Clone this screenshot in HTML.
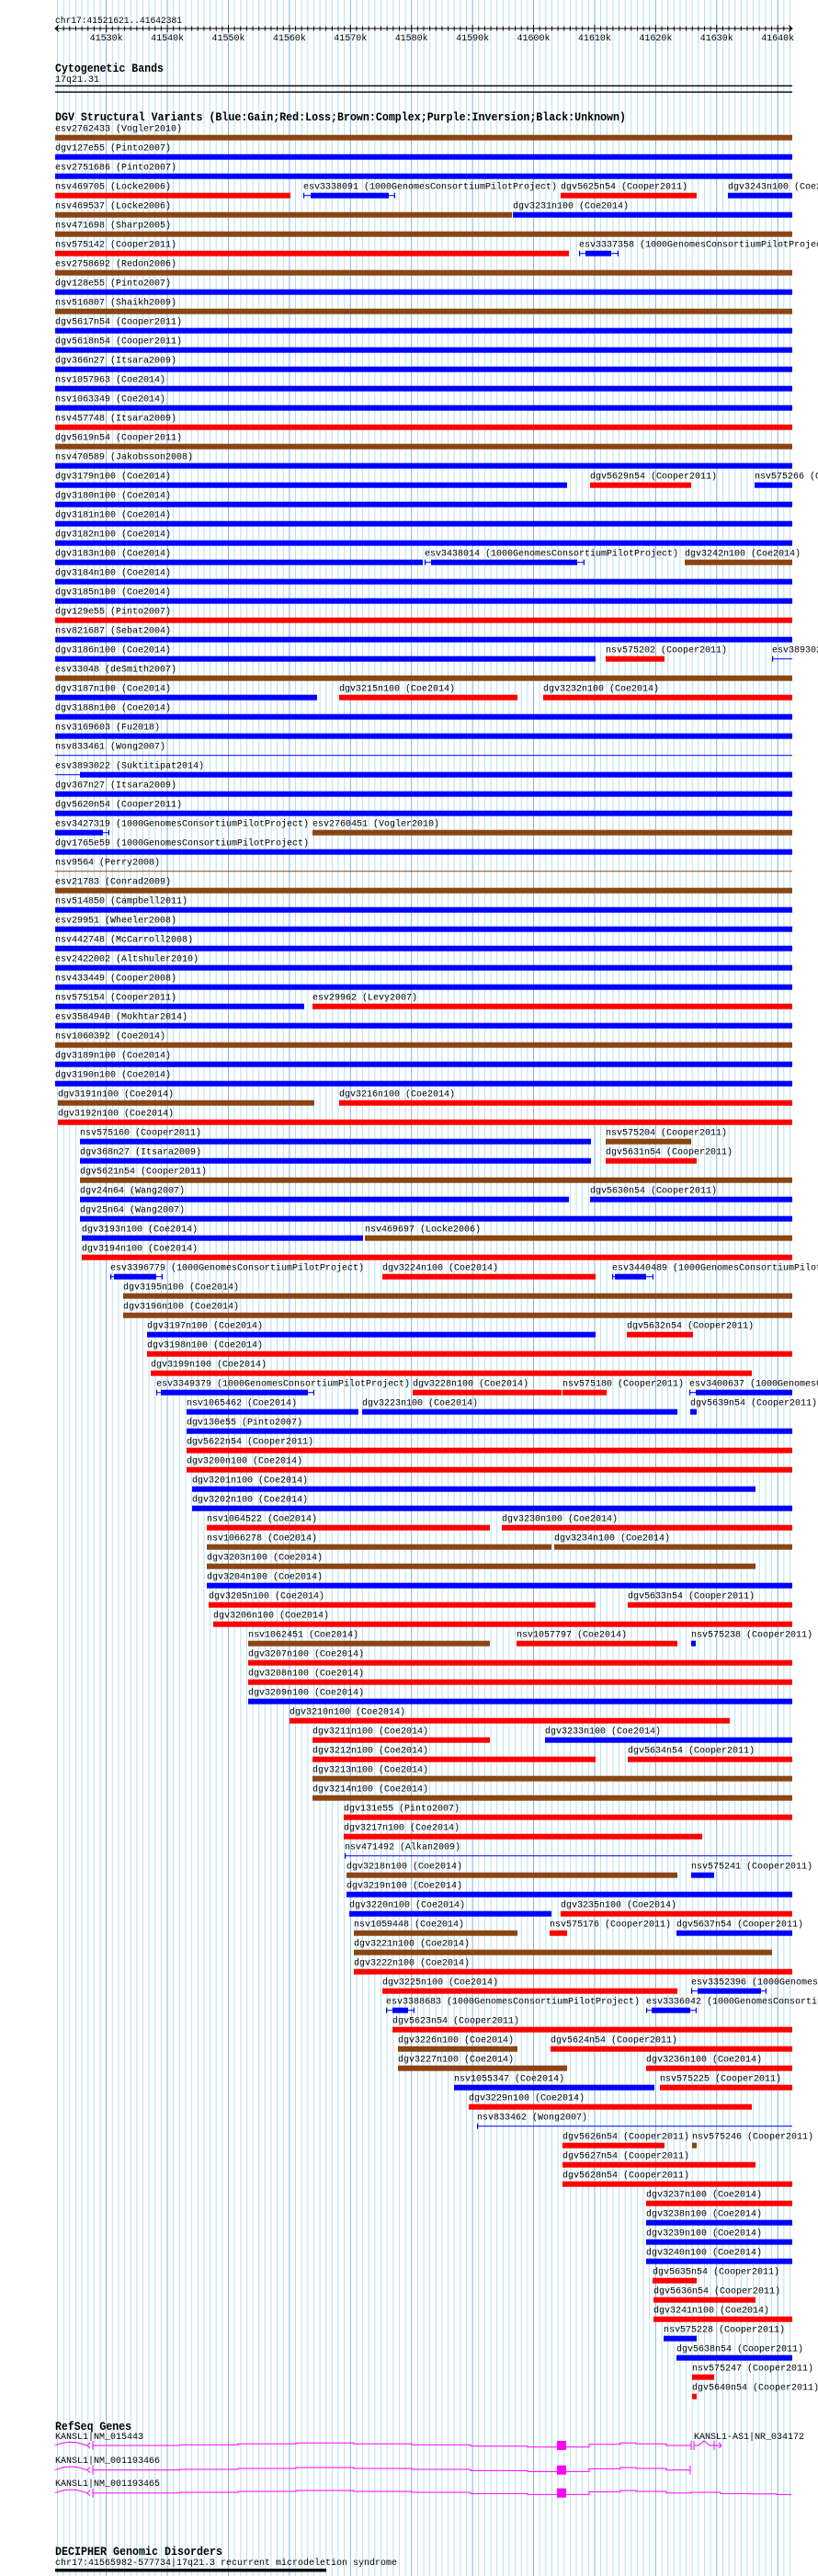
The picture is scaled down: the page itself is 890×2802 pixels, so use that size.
<!DOCTYPE html>
<html><head><meta charset="utf-8"><style>
html,body{margin:0;padding:0;background:#fff;}
svg{display:block;}
text{font-family:"Liberation Mono",monospace;font-size:10.5px;fill:#000;}
.h{font-weight:bold;font-size:13px;}
</style></head><body>
<svg id="s" xmlns="http://www.w3.org/2000/svg" width="890" height="2802" viewBox="0 0 890 2802">
<g id="grid"></g>
<text x="60" y="25" textLength="138" lengthAdjust="spacingAndGlyphs">chr17:41521621..41642381</text>
<g id="ruler"></g>
<text class="h" x="60" y="78" textLength="118" lengthAdjust="spacingAndGlyphs">Cytogenetic Bands</text>
<text x="60" y="89" textLength="48" lengthAdjust="spacingAndGlyphs">17q21.31</text>
<rect x="60" y="92.7" width="802" height="1.4" fill="#000"/>
<rect x="60" y="99.4" width="802" height="1.4" fill="#000"/>
<text class="h" x="60" y="131" textLength="621" lengthAdjust="spacingAndGlyphs">DGV Structural Variants (Blue:Gain;Red:Loss;Brown:Complex;Purple:Inversion;Black:Unknown)</text>
<g id="tracks"></g>
<text class="h" x="60" y="2643" textLength="83" lengthAdjust="spacingAndGlyphs">RefSeq Genes</text>
<text x="60" y="2653" textLength="96" lengthAdjust="spacingAndGlyphs">KANSL1|NM_015443</text>
<text x="755" y="2653" textLength="120" lengthAdjust="spacingAndGlyphs">KANSL1-AS1|NR_034172</text>
<text x="60" y="2679" textLength="114" lengthAdjust="spacingAndGlyphs">KANSL1|NM_001193466</text>
<text x="60" y="2704" textLength="114" lengthAdjust="spacingAndGlyphs">KANSL1|NM_001193465</text>
<g id="genes" fill="none" stroke="#ff00ff" stroke-width="1"></g>
<text class="h" x="60" y="2779" textLength="182" lengthAdjust="spacingAndGlyphs">DECIPHER Genomic Disorders</text>
<text x="60" y="2790" textLength="372" lengthAdjust="spacingAndGlyphs">chr17:41565982-577734|17q21.3 recurrent microdeletion syndrome</text>
<rect x="60" y="2794" width="295" height="3.5" fill="#000"/>
</svg>
<script>
(function(){
var NS="http://www.w3.org/2000/svg";
function el(p,t,a,txt){var e=document.createElementNS(NS,t);for(var k in a)e.setAttribute(k,a[k]);if(txt!==undefined)e.textContent=txt;p.appendChild(e);return e;}
var S=60,E=862,B=41521621,W=120760;
function px(p){return S+(p-B)*(E-S)/W;}
var g=document.getElementById('grid');
for(var k=41522;k<=41642;k++){var x=px(k*1000);var maj=(k%10===0);
 el(g,'rect',{x:(x-0.5).toFixed(2),y:0,width:1,height:2802,fill:maj?'#7db4e6':'#b4e2ee'});}
var r=document.getElementById('ruler');
el(r,'rect',{x:60,y:30.5,width:802,height:1,fill:'#000'});
el(r,'path',{d:'M64,27.5 L60,31 L64,34.5 M858,27.5 L862,31 L858,34.5',stroke:'#000',fill:'none','stroke-width':1});
for(var k=41522;k<=41642;k++){var x=px(k*1000);var maj=(k%10===0);
 el(r,'rect',{x:(x-0.5).toFixed(2),y:maj?27:28.5,width:1,height:maj?8:5,fill:'#000'});
 if(maj){el(r,'text',{x:x.toFixed(1),y:44,'text-anchor':'middle',textLength:36,lengthAdjust:'spacingAndGlyphs'},k+'k');}}
var C={b:'#0000ff',r:'#ff0000',n:'#8b4513'};
var G=" (1000GenomesConsortiumPilotProject)",Co=" (Coe2014)",Cp=" (Cooper2011)";
var rows=[
["esv2762433 (Vogler2010)|60|862|n"],
["dgv127e55 (Pinto2007)|60|862|b"],
["esv2751686 (Pinto2007)|60|862|b"],
["nsv469705 (Locke2006)|60|316|r","esv3338091"+G+"|330|430|b|w|338|423","dgv5625n54"+Cp+"|610|758|r","dgv3243n100"+Co+"|792|862|b"],
["nsv469537 (Locke2006)|60|557|n","dgv3231n100"+Co+"|558|862|b"],
["nsv471698 (Sharp2005)|60|862|n"],
["nsv575142"+Cp+"|60|619|r","esv3337358"+G+"|630|673|b|w|637|665"],
["esv2758692 (Redon2006)|60|862|n"],
["dgv128e55 (Pinto2007)|60|862|b"],
["nsv516807 (Shaikh2009)|60|862|n"],
["dgv5617n54"+Cp+"|60|862|b"],
["dgv5618n54"+Cp+"|60|862|b"],
["dgv366n27 (Itsara2009)|60|862|b"],
["nsv1057963"+Co+"|60|862|b"],
["nsv1063349"+Co+"|60|862|b"],
["nsv457748 (Itsara2009)|60|862|r"],
["dgv5619n54"+Cp+"|60|862|n"],
["nsv470589 (Jakobsson2008)|60|862|b"],
["dgv3179n100"+Co+"|60|617|b","dgv5629n54"+Cp+"|642|752|r","nsv575266"+Cp+"|821|862|b"],
["dgv3180n100"+Co+"|60|862|b"],
["dgv3181n100"+Co+"|60|862|b"],
["dgv3182n100"+Co+"|60|862|b"],
["dgv3183n100"+Co+"|60|460|b","esv3438014"+G+"|462|636|b|w|469|628","dgv3242n100"+Co+"|745|862|n"],
["dgv3184n100"+Co+"|60|862|b"],
["dgv3185n100"+Co+"|60|862|b"],
["dgv129e55 (Pinto2007)|60|862|r"],
["nsv821687 (Sebat2004)|60|862|b"],
["dgv3186n100"+Co+"|60|648|b","nsv575202"+Cp+"|659|723|r","esv3893023 (Suktitipat2014)|840|862|b|t"],
["esv33048 (deSmith2007)|60|862|n"],
["dgv3187n100"+Co+"|60|345|b","dgv3215n100"+Co+"|369|563|r","dgv3232n100"+Co+"|591|862|r"],
["dgv3188n100"+Co+"|60|862|b"],
["nsv3169603 (Fu2018)|60|862|b"],
["nsv833461 (Wong2007)|60|862|b|t"],
["esv3893022 (Suktitipat2014)|60|862|b|w|87|862"],
["dgv367n27 (Itsara2009)|60|862|b"],
["dgv5620n54"+Cp+"|60|862|b"],
["esv3427319"+G+"|60|119|b|w|60|112","esv2760451 (Vogler2010)|340|862|n"],
["dgv1765e59"+G+"|60|862|b"],
["nsv9564 (Perry2008)|60|862|n|t"],
["esv21783 (Conrad2009)|60|862|n"],
["nsv514850 (Campbell2011)|60|862|b"],
["esv29951 (Wheeler2008)|60|862|b"],
["nsv442748 (McCarroll2008)|60|862|b"],
["esv2422002 (Altshuler2010)|60|862|b"],
["nsv433449 (Cooper2008)|60|862|b"],
["nsv575154"+Cp+"|60|331|b","esv29962 (Levy2007)|340|862|r"],
["esv3584940 (Mokhtar2014)|60|862|b"],
["nsv1060392"+Co+"|60|862|n"],
["dgv3189n100"+Co+"|60|862|b"],
["dgv3190n100"+Co+"|60|862|b"],
["dgv3191n100"+Co+"|63|342|n","dgv3216n100"+Co+"|369|862|r"],
["dgv3192n100"+Co+"|63|862|r"],
["nsv575160"+Cp+"|87|643|b","nsv575204"+Cp+"|659|752|n"],
["dgv368n27 (Itsara2009)|87|643|b","dgv5631n54"+Cp+"|659|758|r"],
["dgv5621n54"+Cp+"|87|862|n"],
["dgv24n64 (Wang2007)|87|619|b","dgv5630n54"+Cp+"|642|862|b"],
["dgv25n64 (Wang2007)|87|862|b"],
["dgv3193n100"+Co+"|89|395|b","nsv469697 (Locke2006)|397|862|n"],
["dgv3194n100"+Co+"|89|862|r"],
["esv3396779"+G+"|120|177|b|w|124|170","dgv3224n100"+Co+"|416|648|r","esv3440489"+G+"|666|711|b|w|669|703"],
["dgv3195n100"+Co+"|134|862|n"],
["dgv3196n100"+Co+"|134|862|n"],
["dgv3197n100"+Co+"|160|648|b","dgv5632n54"+Cp+"|682|754|r"],
["dgv3198n100"+Co+"|160|862|r"],
["dgv3199n100"+Co+"|164|818|r"],
["esv3349379"+G+"|170|342|b|w|175|335","dgv3228n100"+Co+"|449|611|r","nsv575180"+Cp+"|612|660|r","esv3400637"+G+"|750|862|b|w|757|862"],
["nsv1065462"+Co+"|203|390|b","dgv3223n100"+Co+"|394|737|b","dgv5639n54"+Cp+"|751|758|b"],
["dgv130e55 (Pinto2007)|203|862|b"],
["dgv5622n54"+Cp+"|203|862|r"],
["dgv3200n100"+Co+"|203|862|r"],
["dgv3201n100"+Co+"|209|822|b"],
["dgv3202n100"+Co+"|209|862|b"],
["nsv1064522"+Co+"|225|533|r","dgv3230n100"+Co+"|546|862|r"],
["nsv1066278"+Co+"|225|600|n","dgv3234n100"+Co+"|603|862|n"],
["dgv3203n100"+Co+"|225|822|n"],
["dgv3204n100"+Co+"|225|862|b"],
["dgv3205n100"+Co+"|227|648|r","dgv5633n54"+Cp+"|683|862|r"],
["dgv3206n100"+Co+"|232|862|r"],
["nsv1062451"+Co+"|270|533|n","nsv1057797"+Co+"|562|737|r","nsv575238"+Cp+"|752|757|b"],
["dgv3207n100"+Co+"|270|862|r"],
["dgv3208n100"+Co+"|270|862|r"],
["dgv3209n100"+Co+"|270|862|b"],
["dgv3210n100"+Co+"|315|794|r"],
["dgv3211n100"+Co+"|340|533|r","dgv3233n100"+Co+"|593|862|b"],
["dgv3212n100"+Co+"|340|648|r","dgv5634n54"+Cp+"|683|862|r"],
["dgv3213n100"+Co+"|340|862|n"],
["dgv3214n100"+Co+"|340|862|n"],
["dgv131e55 (Pinto2007)|374|862|r"],
["dgv3217n100"+Co+"|374|764|r"],
["nsv471492 (Alkan2009)|375|862|b|t"],
["dgv3218n100"+Co+"|377|737|n","nsv575241"+Cp+"|752|777|b"],
["dgv3219n100"+Co+"|377|862|b"],
["dgv3220n100"+Co+"|380|600|b","dgv3235n100"+Co+"|610|862|r"],
["nsv1059448"+Co+"|385|563|n","nsv575176"+Cp+"|598|617|r","dgv5637n54"+Cp+"|736|862|b"],
["dgv3221n100"+Co+"|385|840|n"],
["dgv3222n100"+Co+"|385|862|r"],
["dgv3225n100"+Co+"|416|737|r","esv3352396"+G+"|752|834|b|w|759|828"],
["esv3388683"+G+"|420|451|b|w|427|444","esv3336042"+G+"|703|758|b|w|709|751"],
["dgv5623n54"+Cp+"|427|862|r"],
["dgv3226n100"+Co+"|433|563|n","dgv5624n54"+Cp+"|599|862|r"],
["dgv3227n100"+Co+"|433|617|n","dgv3236n100"+Co+"|703|862|r"],
["nsv1055347"+Co+"|494|712|b","nsv575225"+Cp+"|718|862|r"],
["dgv3229n100"+Co+"|510|818|r"],
["nsv833462 (Wong2007)|519|862|b|t"],
["dgv5626n54"+Cp+"|612|723|r","nsv575246"+Cp+"|753|758|n"],
["dgv5627n54"+Cp+"|612|822|r"],
["dgv5628n54"+Cp+"|612|862|r"],
["dgv3237n100"+Co+"|703|862|r"],
["dgv3238n100"+Co+"|703|862|b"],
["dgv3239n100"+Co+"|703|862|b"],
["dgv3240n100"+Co+"|703|862|b"],
["dgv5635n54"+Cp+"|710|758|r"],
["dgv5636n54"+Cp+"|711|822|r"],
["dgv3241n100"+Co+"|711|862|r"],
["nsv575228"+Cp+"|722|758|b"],
["dgv5638n54"+Cp+"|736|862|b"],
["nsv575247"+Cp+"|753|777|r"],
["dgv5640n54"+Cp+"|753|758|r"]
];
var T=document.getElementById('tracks');
rows.forEach(function(row,i){
 var y=146.7+21*i;
 row.forEach(function(s){
  var p=s.split('|'),l=p[0],a=+p[1],b=+p[2],c=C[p[3]],t=p[4]||'';
  el(T,'text',{x:a,y:(y-4).toFixed(1),textLength:l.length*6,lengthAdjust:'spacingAndGlyphs'},l);
  if(t==='t'){
   el(T,'rect',{x:a,y:(y+2.5).toFixed(1),width:b-a,height:1,fill:c});
   if(a>60)el(T,'rect',{x:a,y:y,width:1.2,height:6,fill:c});
  }else if(t==='w'){
   var i1=+p[5],i2=+p[6];
   el(T,'rect',{x:a,y:(y+2.5).toFixed(1),width:b-a,height:1,fill:c});
   if(a>60)el(T,'rect',{x:a,y:y,width:1.2,height:6,fill:c});
   if(b<862)el(T,'rect',{x:b-1.2,y:y,width:1.2,height:6,fill:c});
   el(T,'rect',{x:i1,y:y,width:i2-i1,height:6,fill:c});
  }else{
   el(T,'rect',{x:a,y:y,width:Math.max(b-a,2),height:6,fill:c});
  }
 });
});
var Gn=document.getElementById('genes');
function gene(y0,endX,last){
 var d='M60,'+y0+' Q72,'+(y0-5)+' 84,'+(y0-3)+' L95,'+y0+' M98,'+(y0-3)+' L95,'+y0+' L98,'+(y0+3)+' M101,'+(y0-5)+' L101,'+(y0+5);
 var segs=[[101,196,0],[196,259,-0.7],[259,322,-1.7],[322,385,-2.7],[385,448,-1.7],[448,512,-0.7],[512,574,0.7],[574,606,1.7],[616,641,1.7],[641,675,-1.3],[675,692,-2.7],[692,725,-1.7],[725,752,0]];
 if(last)segs=segs.concat([[752,784,-0.7],[784,815,0.7],[815,845,1],[845,861,1.7]]);
 d+=' M101,'+y0;
 segs.forEach(function(s){if(s[1]>endX)s[1]=endX; if(s[0]<endX)d+=' L'+s[0]+','+(y0+s[2])+' L'+s[1]+','+(y0+s[2]);});
 el(Gn,'path',{d:d});
 el(Gn,'rect',{x:606,y:y0-5,width:10,height:10,fill:'#ff00ff',stroke:'none'});
}
gene(2660,752,false);
el(Gn,'path',{d:'M752,2655 L752,2665 M755,2655 L755,2665 M755,2660 L760,2660 L766,2655 L772,2660 L777,2660 M782,2657 L785,2660 L782,2663 M777,2655 L777,2665 M777,2660 L785,2660'});
gene(2686.7,751,false);
el(Gn,'path',{d:'M751,2681.7 L751,2691.7'});
gene(2711.7,861,true);
})();
</script>
</body></html>
